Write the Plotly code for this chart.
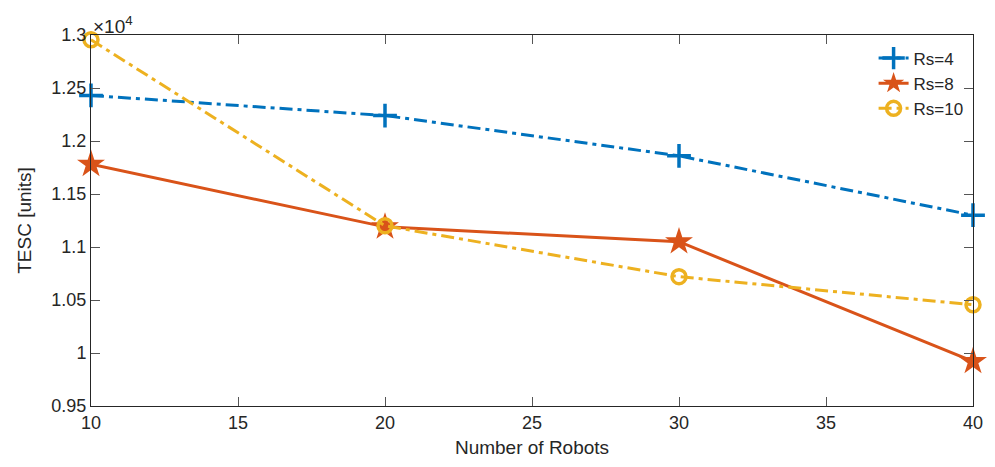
import plotly.graph_objects as go

robots = [10, 20, 30, 40]
rs4 = [12430, 12240, 11860, 11300]
rs8 = [11780, 11190, 11050, 9920]
rs10 = [12955, 11200, 10720, 10455]
ytick_vals = [9500, 10000, 10500, 11000, 11500, 12000, 12500, 13000]
ytick_text = ["0.95", "1", "1.05", "1.1", "1.15", "1.2", "1.25", "1.3"]
xtick_vals = [10, 15, 20, 25, 30, 35, 40]

dashdot = "13px,5px,4px,5px"
fig = go.Figure()
fig.add_trace(go.Scatter(x=robots, y=rs4, name="Rs=4", mode="lines+markers", cliponaxis=False,
                         line=dict(color="#0072BD", width=3, dash=dashdot),
                         marker=dict(symbol="cross-thin", size=17, line=dict(width=3.5, color="#0072BD"))))
fig.add_trace(go.Scatter(x=robots, y=rs8, name="Rs=8", mode="lines+markers", cliponaxis=False,
                         line=dict(color="#D95319", width=3),
                         marker=dict(symbol="star", size=21, color="#D95319", line=dict(width=0))))
fig.add_trace(go.Scatter(x=robots, y=rs10, name="Rs=10", mode="lines+markers", cliponaxis=False,
                         line=dict(color="#EDB120", width=3, dash=dashdot),
                         marker=dict(symbol="circle-open", size=14, line=dict(width=3.5, color="#EDB120"))))

axcol = "#262626"
fig.update_layout(
    width=995, height=467,
    margin=dict(l=91, r=12, t=35, b=58),
    paper_bgcolor="white", plot_bgcolor="white",
    font=dict(family="Liberation Sans, Arial, sans-serif", size=18, color=axcol),
    legend=dict(x=0.995, y=0.985, xanchor="right", yanchor="top",
                bgcolor="rgba(0,0,0,0)", font=dict(size=17), tracegroupgap=0,
                itemwidth=30),
    showlegend=True,
)
fig.update_xaxes(range=[10, 40], tickvals=xtick_vals, ticks="inside", ticklen=9,
                 showgrid=False, zeroline=False, showline=True, linecolor=axcol, linewidth=1,
                 mirror="ticks", tickcolor="#555", tickfont=dict(size=18),
                 title=dict(text="Number of Robots", font=dict(size=19), standoff=9))
fig.update_yaxes(range=[9500, 13000], tickvals=ytick_vals, ticktext=ytick_text, ticks="inside", ticklen=9,
                 showgrid=False, zeroline=False, showline=True, linecolor=axcol, linewidth=1,
                 mirror="ticks", tickcolor="#555", tickfont=dict(size=18),
                 title=dict(text="TESC [units]", font=dict(size=19), standoff=14))
fig.add_annotation(xref="paper", yref="paper", x=0, y=1, xanchor="left", yanchor="bottom",
                   text="×10<sup>4</sup>", showarrow=False, font=dict(size=19, color=axcol), yshift=-4)
fig.write_html("out.html")
